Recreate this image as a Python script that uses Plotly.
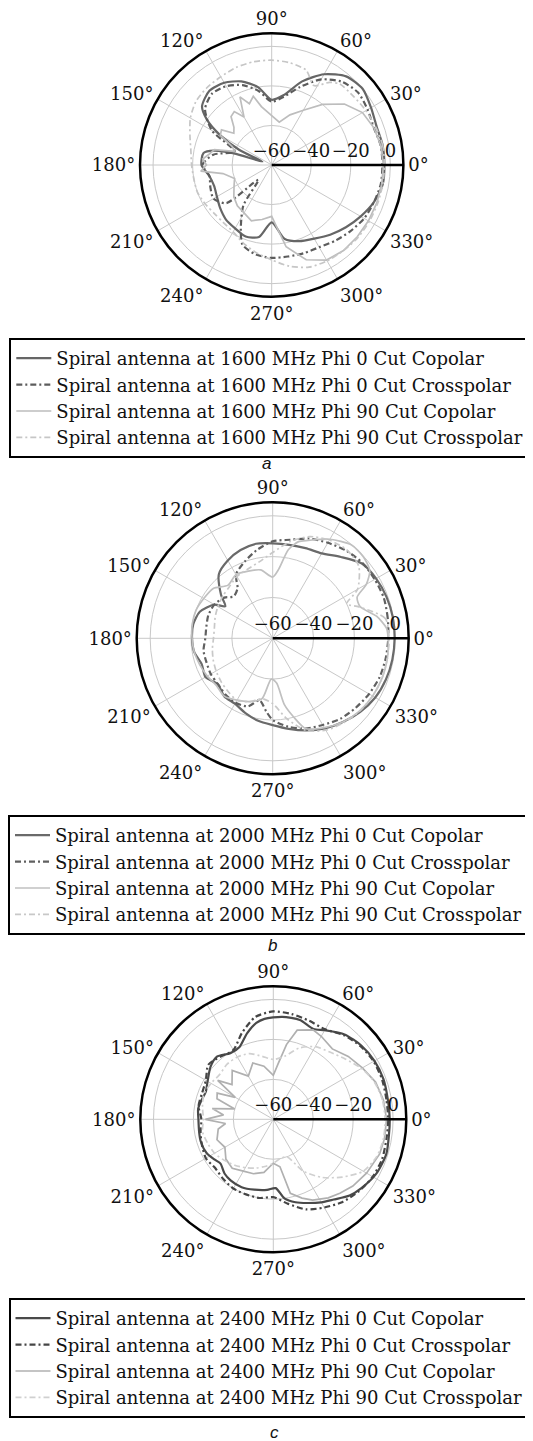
import plotly.graph_objects as go

# ---------------- data (dB vs angle in degrees) ----------------
# Panel a : 1600 MHz
A_P0CO_TH = [0,10,20,30,40,50,60,70,80,90,100,110,120,130,140,145,150,155,160,163,166,170,180,190,200,210,220,230,240,250,260,270,280,290,300,310,320,330,340,350,360]
A_P0CO_DB = [-3,-3,-3.5,-2,0,-1.5,-7,-15,-24,-27,-20,-15,-12,-11,-14,-20,-30,-42,-55,-40,-30,-25,-24.5,-28,-29,-28,-26,-24,-23,-21.5,-23,-31,-22,-19,-17,-14,-11,-8,-5,-3,-3]

A_P0X_TH = [0,10,20,30,40,50,60,70,80,90,100,110,120,130,140,150,160,170,180,190,200,210,220,228,235,245,250,260,270,280,290,300,310,320,330,340,350,360]
A_P0X_DB = [-4,-4,-5,-4,-3,-5,-10,-18,-25,-28,-22,-17,-14,-13,-16,-25,-40,-30,-25,-28,-27,-26,-30,-50,-35,-23,-17,-14,-13,-13,-12.5,-12,-10,-8,-6,-5,-4,-4]

A_P90CO_TH = [0,10,20,30,40,50,60,70,80,90,100,105,110,115,120,125,130,135,140,145,150,155,160,165,170,175,180,185,190,200,210,220,230,240,250,260,270,275,280,290,300,310,320,330,340,350,360]
A_P90CO_DB = [-3.5,-4,-5,-7,-12,-20,-28,-33,-38,-35,-30,-24,-27,-22,-32,-27,-28,-33,-35,-29,-30,-38,-40,-30,-28,-25,-27,-24,-35,-40,-38,-35,-33,-32,-30,-32,-34,-28,-18,-9,-4.5,-3.5,-3.5,-3.5,-3.5,-3.5,-3.5]

A_P90X_TH = [0,10,20,30,40,50,55,62,70,80,90,100,110,120,130,140,150,160,170,180,190,200,210,220,230,240,250,260,270,280,290,300,310,320,330,340,350,360]
A_P90X_DB = [-3,-3,-4,-5,-6,-6.5,-9,-14.5,-9,-7.5,-7,-7,-7.5,-8.5,-9,-10,-12.5,-16,-18.5,-19.5,-20,-20,-21,-22,-22,-21,-18,-15,-12,-8,-5,-4,-3.5,-3,-3,-3,-3,-3]

# Panel b : 2000 MHz
B_P0CO_TH = [0,10,20,30,40,50,60,70,80,90,100,110,120,130,140,146,150,160,170,180,190,200,210,220,230,240,250,260,270,280,290,300,310,320,330,340,350,360]
B_P0CO_DB = [-0.3,-0.3,-0.7,-1.5,-3,-8,-12,-13,-13.5,-13.5,-13,-14,-16,-19,-27,-32,-27,-22,-20.5,-20.5,-21,-23,-22,-25,-23,-23,-21,-19,-17.5,-15,-12,-9,-6.5,-4,-2,-1,-0.5,-0.3]

B_P0X_TH = [0,10,20,30,40,50,60,70,80,90,100,110,120,125,133,140,150,160,170,180,190,200,210,220,230,240,250,258,265,270,280,290,300,310,320,330,340,350,360]
B_P0X_DB = [-3.4,-2.8,-2.1,-2.3,-2.6,-4,-6,-8,-11,-12.5,-16,-20,-24,-30,-32,-29,-27,-26.5,-27,-27,-25.6,-25.5,-25,-25,-24,-23.6,-24.5,-29,-24,-20,-16,-13,-11,-8.5,-7,-5.5,-4.3,-3.8,-3.4]

B_P90CO_TH = [0,5,12,20,26,30,35,42,50,60,70,75,80,85,90,100,110,120,130,140,150,160,170,180,190,200,210,220,230,240,250,260,268,275,280,285,290,300,310,320,330,340,350,360]
B_P90CO_DB = [-3.5,-4,-8,-14.5,-14,-7,-2,-0.3,-0.2,-4,-9,-11,-16,-26,-30,-26,-25,-24,-26,-22,-21,-20,-20,-20.5,-21,-22,-23,-24,-23,-25,-27,-30,-40,-38,-27,-20,-13,-9.5,-6.5,-4.5,-3.5,-3,-3,-3.5]

B_P90X_TH = [0,10,20,25,30,40,50,60,70,80,90,100,110,120,130,140,150,160,170,180,190,200,210,220,230,240,250,260,270,280,290,300,310,320,330,340,350,360]
B_P90X_DB = [-3,-4,-15,-20,-12,-5,-3.5,-4.5,-7,-12,-18,-22,-24,-25,-27,-28,-29,-30,-31,-31,-30,-29,-28,-27,-26,-25,-27,-30,-28,-20,-12,-8,-6,-4.5,-3.5,-3,-3,-3]

# Panel c : 2400 MHz
C_P0CO_TH = [0,10,20,30,40,50,60,66,75,85,95,100,107,115,123,132,140,150,158,165,172,180,190,197,207,215,220,228,235,245,255,265,272,278,285,292,300,307,315,322,332,343,353,360]
C_P0CO_DB = [-1.7,-1.8,-1.3,-1.5,-2.5,-4.5,-8.5,-10.5,-8.5,-8.5,-9.5,-11,-15,-20,-20.5,-17.8,-19,-22,-23.5,-22.8,-22,-22.5,-22.3,-22,-22.6,-24.5,-25.5,-23.5,-22.7,-22.5,-23.5,-24.5,-25.5,-20,-17,-14.8,-12,-9.7,-6,-4,-1.7,-0.8,-1.6,-1.7]

C_P0X_TH = [0,10,20,30,40,50,60,70,80,90,100,110,120,130,140,150,160,170,180,190,200,210,220,230,240,250,260,270,280,290,300,310,320,330,340,350,360]
C_P0X_DB = [-2.5,-2.5,-2,-2,-3,-5,-8,-7.5,-6.5,-6,-8,-14,-20,-19,-17.5,-21,-22,-22,-24,-23,-22,-21,-22,-21,-20,-20,-20,-21,-17,-12,-9,-6,-4,-2.5,-2,-2.5,-2.5]

C_P90CO_TH = [0,10,20,30,40,50,60,66,75,80,85,90,100,110,120,130,140,145,150,155,160,165,170,175,180,185,190,200,210,220,230,240,250,260,270,278,283,290,296,305,312,320,330,342,350,360]
C_P90CO_DB = [-3.3,-4,-5.5,-8.5,-11,-14,-12,-11,-13.8,-22,-32,-38,-33,-30,-35,-28,-33,-26,-38,-29,-30,-40,-29,-35,-26,-36,-32,-30,-32,-29,-28,-30,-31,-33,-38,-36,-22,-18,-15,-12,-10.2,-8,-6.1,-4,-3.5,-3.3]

C_P90X_TH = [0,10,20,30,40,50,60,70,80,90,100,110,120,130,140,150,160,170,180,190,200,210,220,230,240,250,260,270,280,290,300,310,320,330,340,350,360]
C_P90X_DB = [-4,-4.5,-6,-9,-13,-16,-18,-22,-28,-30,-28,-25,-24,-24,-25,-24,-23,-24,-25,-24,-25,-26,-28,-30,-32,-34,-36,-38,-40,-40,-30,-22,-15,-8,-5,-4,-4]

FREQS = ["1600", "2000", "2400"]
CUTS = ["Phi 0 Cut Copolar", "Phi 0 Cut Crosspolar", "Phi 90 Cut Copolar", "Phi 90 Cut Crosspolar"]
ANG_TICKS = [0, 30, 60, 90, 120, 150, 180, 210, 240, 270, 300, 330]
RAD_TICKS = [-60, -40, -20, 0]
RAD_TEXT = ["\u221260", "\u221240", "\u221220", "0"]
PANEL_LABELS = ["a", "b", "c"]

SERIES = [
    [(A_P0CO_TH, A_P0CO_DB), (A_P0X_TH, A_P0X_DB), (A_P90CO_TH, A_P90CO_DB), (A_P90X_TH, A_P90X_DB)],
    [(B_P0CO_TH, B_P0CO_DB), (B_P0X_TH, B_P0X_DB), (B_P90CO_TH, B_P90CO_DB), (B_P90X_TH, B_P90X_DB)],
    [(C_P0CO_TH, C_P0CO_DB), (C_P0X_TH, C_P0X_DB), (C_P90CO_TH, C_P90CO_DB), (C_P90X_TH, C_P90X_DB)],
]

# ---------------- layout / style ----------------
PAGE_OFF = 8                 # browser body margin
W, H = 533 - PAGE_OFF, 1441 - PAGE_OFF
FONT = "DejaVu Serif"
# polar centre (page px) and outer radius (px)
GEOM = [(271.7, 165.0, 131.7), (272.7, 638.3, 136.0), (273.3, 1119.3, 133.0)]
LEGEND_POS = [(9.3, 338), (8.0, 815), (8.5, 1298)]
LABEL_POS = [(266.7, 463), (272.5, 945), (274, 1432)]
RMAX = 6.6

COLORS = [
    ["#666666", "#5c5c5c", "#bdbdbd", "#c6c6c6"],
    ["#6a6a6a", "#606060", "#c0c0c0", "#c8c8c8"],
    ["#4a4a4a", "#454545", "#b0b0b0", "#d0d0d0"],
]
DASHES = ["solid", "6px,3px,2px,3px", "solid", "6px,3px,2px,3px"]
WIDTHS = [2.2, 2.2, 1.7, 1.7]
SHAPES = ["spline", "spline", "linear", "spline"]


def xd(x):
    return (x - PAGE_OFF) / W


def yd(y):
    return 1 - (y - PAGE_OFF) / H


fig = go.Figure()
for p in range(3):
    pname = "polar" if p == 0 else f"polar{p + 1}"
    lname = "legend" if p == 0 else f"legend{p + 1}"
    for s in range(4):
        th, db = SERIES[p][s]
        shape = SHAPES[s]
        if p == 1 and s == 2:
            shape = "spline"
        fig.add_trace(go.Scatterpolar(
            theta=th, r=db, mode="lines",
            name=f"Spiral antenna at {FREQS[p]} MHz {CUTS[s]}",
            line=dict(color=COLORS[p][s], width=WIDTHS[s], dash=DASHES[s],
                      shape=shape, smoothing=0.7),
            subplot=pname, legend=lname,
        ))

    cx, cy, R = GEOM[p]
    polar = dict(
        domain=dict(x=[xd(cx - R), xd(cx + R)], y=[yd(cy + R), yd(cy - R)]),
        bgcolor="white",
        radialaxis=dict(
            range=[-60, RMAX], tickvals=RAD_TICKS, ticktext=RAD_TEXT,
            angle=0, side="counterclockwise", ticks="", tickangle=0,
            showline=True, linecolor="black", linewidth=2.5,
            gridcolor="#c8c8c8", gridwidth=1,
            tickfont=dict(family=FONT, size=18, color="#111111"),
        ),
        angularaxis=dict(
            tickvals=ANG_TICKS, ticktext=[f"{v}\u00b0" for v in ANG_TICKS],
            direction="counterclockwise", rotation=0, ticks="",
            showline=True, linecolor="black", linewidth=2.5,
            gridcolor="#c8c8c8", gridwidth=1,
            tickfont=dict(family=FONT, size=18, color="#111111"),
        ),
    )
    fig.update_layout(**{pname: polar})

    lx, ly = LEGEND_POS[p]
    fig.update_layout(**{lname: dict(
        x=xd(lx), y=yd(ly), xanchor="left", yanchor="top",
        bgcolor="white", bordercolor="black", borderwidth=2,
        font=dict(family=FONT, size=18, color="#111111"),
        itemwidth=35,
    )})

    ax, ay = LABEL_POS[p]
    fig.add_annotation(x=xd(ax), y=yd(ay), xref="paper", yref="paper",
                       xanchor="center", yanchor="middle",
                       text=f"<i>{PANEL_LABELS[p]}</i>", showarrow=False,
                       font=dict(family="Liberation Sans", size=17, color="#111111"))

fig.update_layout(width=W, height=H, margin=dict(l=0, r=0, t=0, b=0),
                  paper_bgcolor="white", showlegend=True)

fig.write_html("out.html")
